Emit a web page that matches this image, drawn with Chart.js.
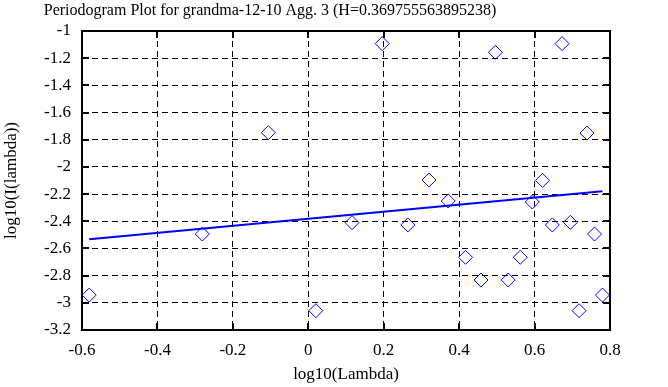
<!DOCTYPE html>
<html>
<head>
<meta charset="utf-8">
<script src="https://cdn.jsdelivr.net/npm/chart.js@4"></script>
<style>
  html, body { margin: 0; padding: 0; background: #fff; }
  #wrap { width: 668px; height: 387px; }
</style>
</head>
<body>
<div id="wrap"><canvas id="periodogram" width="668" height="387"></canvas></div>
<script>
// periodogram points
const logLambda = [-0.581, -0.281, -0.106, 0.020, 0.116, 0.196, 0.264, 0.320, 0.371, 0.417, 0.458,
    0.496, 0.530, 0.562, 0.594, 0.621, 0.647, 0.673, 0.695, 0.718, 0.739, 0.759, 0.780];
const logI = [-2.943, -2.494, -1.748, -3.058, -2.410, -1.093, -2.427, -2.096, -2.251, -2.665, -2.832,
    -1.157, -2.832, -2.665, -2.258, -2.099, -2.427, -1.093, -2.408, -3.058, -1.751, -2.494, -2.943];

// least squares fit line (end points)
const fitX = [-0.581, 0.780];
const fitY = [-2.533, -2.179];

const xTicks = [-0.6, -0.4, -0.2, 0, 0.2, 0.4, 0.6, 0.8];
const yTicks = [-1, -1.2, -1.4, -1.6, -1.8, -2, -2.2, -2.4, -2.6, -2.8, -3, -3.2];

const titleText = "Periodogram Plot for grandma-12-10 Agg. 3 (H=0.369755563895238)";
const serif = "'Liberation Serif', 'DejaVu Serif', serif";

document.addEventListener("DOMContentLoaded", function () {
    const ctx = document.getElementById("periodogram").getContext("2d");

    // frame, inner tick marks and title
    const framePlugin = {
        id: "frame",
        afterDraw(chart) {
            const c = chart.ctx;
            const a = chart.chartArea;
            const xs = chart.scales.x, ys = chart.scales.y;
            c.save();
            c.strokeStyle = "#000";
            c.lineWidth = 2;
            c.setLineDash([]);
            c.strokeRect(a.left, a.top, a.right - a.left, a.bottom - a.top);
            c.beginPath();
            yTicks.forEach(v => {
                const py = Math.round(ys.getPixelForValue(v));
                c.moveTo(a.left, py); c.lineTo(a.left + 7, py);
                c.moveTo(a.right, py); c.lineTo(a.right - 7, py);
            });
            xTicks.forEach(v => {
                const px = Math.round(xs.getPixelForValue(v));
                c.moveTo(px, a.top); c.lineTo(px, a.top + 7);
                c.moveTo(px, a.bottom); c.lineTo(px, a.bottom - 7);
            });
            c.stroke();
            c.fillStyle = "#000";
            c.font = "16px " + serif;
            c.textAlign = "center";
            c.textBaseline = "alphabetic";
            c.fillText(titleText, 270, 15);
            c.restore();
        }
    };

    new Chart(ctx, {
        type: "scatter",
        data: {
            datasets: [
                {
                    label: "periodogram",
                    data: logLambda.map((x, i) => ({ x: x, y: logI[i] })),
                    pointStyle: "rectRot",
                    pointRadius: 7,
                    pointHoverRadius: 7,
                    borderColor: "#0000ff",
                    backgroundColor: "rgba(0,0,0,0)",
                    pointBorderWidth: 1,
                    showLine: false
                },
                {
                    label: "fit",
                    data: fitX.map((x, i) => ({ x: x, y: fitY[i] })),
                    showLine: true,
                    borderColor: "#0000ff",
                    borderWidth: 2,
                    pointRadius: 0,
                    fill: false
                }
            ]
        },
        options: {
            responsive: false,
            animation: false,
            layout: { padding: { top: 31, right: 58, left: 0, bottom: 0 } },
            plugins: {
                legend: { display: false },
                tooltip: { enabled: false },
                title: { display: false }
            },
            scales: {
                x: {
                    type: "linear",
                    min: -0.6,
                    max: 0.8,
                    afterBuildTicks: s => { s.ticks = xTicks.map(v => ({ value: v })); },
                    afterFit: s => { s.height = 57; },
                    grid: {
                        color: "#000",
                        lineWidth: 1,
                        drawTicks: false
                    },
                    border: { display: false, dash: [6, 4] },
                    ticks: {
                        color: "#000",
                        font: { family: serif, size: 17 },
                        padding: 10,
                        maxRotation: 0,
                        callback: v => String(Math.round(v * 10) / 10)
                    },
                    title: {
                        display: true,
                        text: "log10(Lambda)",
                        color: "#000",
                        font: { family: serif, size: 17 },
                        padding: { top: 0, bottom: 2 }
                    }
                },
                y: {
                    type: "linear",
                    min: -3.2,
                    max: -1,
                    afterBuildTicks: s => { s.ticks = yTicks.map(v => ({ value: v })); },
                    afterFit: s => { s.width = 82; },
                    grid: {
                        color: "#000",
                        lineWidth: 1,
                        drawTicks: false
                    },
                    border: { display: false, dash: [6, 4] },
                    ticks: {
                        color: "#000",
                        font: { family: serif, size: 17 },
                        padding: 11,
                        callback: v => String(Math.round(v * 10) / 10)
                    },
                    title: {
                        display: true,
                        text: "log10(I(lambda))",
                        color: "#000",
                        font: { family: serif, size: 17 },
                        padding: { top: 1, bottom: 0 }
                    }
                }
            }
        },
        plugins: [framePlugin]
    });
});
</script>
</body>
</html>
